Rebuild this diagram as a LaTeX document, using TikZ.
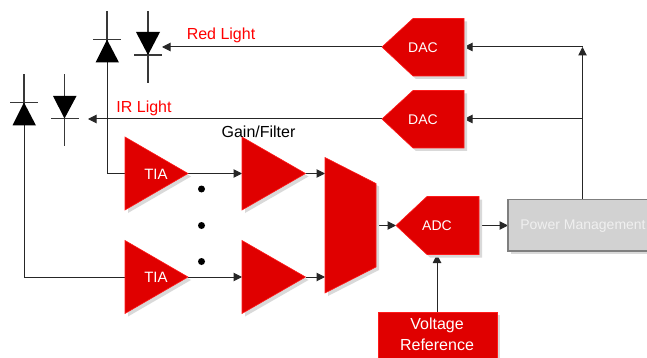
\documentclass[tikz,border=0pt]{standalone}
\usepackage{fontspec}
\setmainfont{Liberation Sans}
\usetikzlibrary{arrows.meta}
\definecolor{tired}{HTML}{E00000}
\definecolor{tiedge}{HTML}{FF1A1A}
\definecolor{softshadow}{HTML}{D9D9D9}
\definecolor{pmfill}{HTML}{D2D2D2}
\definecolor{pmedge}{HTML}{7F7F7F}
\definecolor{redtext}{HTML}{FF0000}
\definecolor{pmtext}{HTML}{F0F0F0}
\tikzset{
  x=1pt,y=-1pt,
  shaded block/.style={preaction={fill=softshadow,transform canvas={shift={(3pt,-3pt)}}}},
  redblock/.style={shaded block,fill=tired,draw=tiedge,line width=0.6pt,line join=miter},
  wire/.style={draw=black!85,line width=1pt},
  signal/.style={wire,-{Triangle[length=8.5pt,width=8.5pt]},shorten >=0pt},
  diodebody/.style={fill=black},
  diodelead/.style={draw=black!78,line width=1.2pt},
  label14/.style={text=white,font=\fontsize{14}{16}\selectfont,inner sep=0pt},
  label15/.style={text=white,font=\fontsize{15}{17}\selectfont,inner sep=0pt},
  label16/.style={text=white,font=\fontsize{16}{18}\selectfont,inner sep=0pt},
  outtext/.style={text=redtext,font=\fontsize{16}{18}\selectfont,inner sep=0pt},
  blacktext/.style={text=black,font=\fontsize{16}{18}\selectfont,inner sep=0pt},
  dotmark/.style={circle,fill=black,inner sep=0pt,minimum size=7pt}
}
\begin{document}
\begin{tikzpicture}
\useasboundingbox (0,0) rectangle (647,358);
\clip (0,0) rectangle (647,358);
% ports
\coordinate (dac1tip) at (382,47);
\coordinate (dac1in) at (464,47);
\coordinate (dac2tip) at (382,119);
\coordinate (dac2in) at (464,119);
\coordinate (led1port) at (162,47);
\coordinate (led2port) at (88,119);
\coordinate (pd1low) at (107,62);
\coordinate (pd1in) at (125,173.5);
\coordinate (pd2low) at (24,125);
\coordinate (pd2in) at (125,277);
\coordinate (tia1out) at (188,173.5);
\coordinate (tia2out) at (188,277);
\coordinate (amp1in) at (242,173.5);
\coordinate (amp2in) at (242,277);
\coordinate (amp1out) at (305.5,173.5);
\coordinate (amp2out) at (305.5,277);
\coordinate (mux1in) at (325,173.5);
\coordinate (mux2in) at (325,277);
\coordinate (muxout) at (376,225.5);
\coordinate (adctip) at (396,225.5);
\coordinate (adcout) at (482,225.5);
\coordinate (adcbot) at (437,254.5);
\coordinate (vrtop) at (437,312);
\coordinate (pmin) at (508,225.5);
\coordinate (pmtop) at (582.5,199);
\coordinate (bustop) at (582.5,47);
\coordinate (busmid) at (582.5,119);
% wires
\draw[signal] (dac1tip) -- (led1port);
\draw[signal] (dac2tip) -- (led2port);
\draw[wire] (pd1low) |- (pd1in);
\draw[wire] (pd2low) |- (pd2in);
\draw[signal] (tia1out) -- (amp1in);
\draw[signal] (tia2out) -- (amp2in);
\draw[signal] (amp1out) -- (mux1in);
\draw[signal] (amp2out) -- (mux2in);
\draw[signal] (muxout) -- (adctip);
\draw[signal] (adcout) -- (pmin);
\draw[signal] (vrtop) -- (adcbot);
\draw[signal] (pmtop) -- (bustop);
\draw[signal] (bustop) -- (dac1in);
\draw[signal] (busmid) -- (dac2in);
% diodes
\draw[diodelead] (107,11) -- (107,62);
\draw[diodelead] (93,39.5) -- (121,39.5);
\fill[diodebody] (107,39.5) -- (119,62.5) -- (95.5,62.5) -- cycle;
\draw[diodelead] (148,11) -- (148,83.5);
\draw[diodelead] (134,55) -- (162,55);
\fill[diodebody] (136,32) -- (160,32) -- (148,55) -- cycle;
\draw[diodelead] (24,74.5) -- (24,125);
\draw[diodelead] (10,102.5) -- (38,102.5);
\fill[diodebody] (24,102.5) -- (36,125.5) -- (12.5,125.5) -- cycle;
\draw[diodelead] (64.5,74.5) -- (64.5,146.5);
\draw[diodelead] (51,118.5) -- (78.5,118.5);
\fill[diodebody] (53,96) -- (76.5,96) -- (64.5,118.5) -- cycle;
% blocks
\path[redblock] (413,18.5) -- (464,18.5) -- (464,76) -- (413,76) -- (dac1tip) -- cycle;
\path[redblock] (413,90.5) -- (464,90.5) -- (464,148) -- (413,148) -- (dac2tip) -- cycle;
\path[redblock] (125,137) -- (tia1out) -- (125,210) -- cycle;
\path[redblock] (125,240.5) -- (tia2out) -- (125,313.5) -- cycle;
\path[redblock] (242,137) -- (amp1out) -- (242,210) -- cycle;
\path[redblock] (242,240.5) -- (amp2out) -- (242,313.5) -- cycle;
\path[redblock] (325,157.5) -- (376,183.5) -- (376,267) -- (325,293) -- cycle;
\path[redblock] (427,196.5) -- (479,196.5) -- (479,254.5) -- (427,254.5) -- (adctip) -- cycle;
\path[redblock] (378,312) rectangle (497,365);
\path[shaded block,fill=pmfill,draw=pmedge,line width=1.3pt] (508,199.5) rectangle (660,251);
% labels
\node[label14] (dac1) at (423,47.8) {DAC};
\node[label14] (dac2) at (423,119.8) {DAC};
\node[label15] (tia1) at (156,174) {TIA};
\node[label15] (tia2) at (156,277.5) {TIA};
\node[label14] (adc) at (437,225.8) {ADC};
\node[text=pmtext,font=\fontsize{14}{16}\selectfont,inner sep=0pt] (pm) at (583,226) {Power Management};
\node[label16] (vr1) at (437,325.5) {Voltage};
\node[label16] (vr2) at (437,344.5) {Reference};
\node[outtext] (redlight) at (221,35.5) {Red Light};
\node[outtext] (irlight) at (144,108) {IR Light};
\node[blacktext] (gain) at (258.5,131.5) {Gain/Filter};
\node[dotmark] (dot1) at (201.5,189) {};
\node[dotmark] (dot2) at (201.5,225.5) {};
\node[dotmark] (dot3) at (201.5,261.5) {};
\end{tikzpicture}
\end{document}
